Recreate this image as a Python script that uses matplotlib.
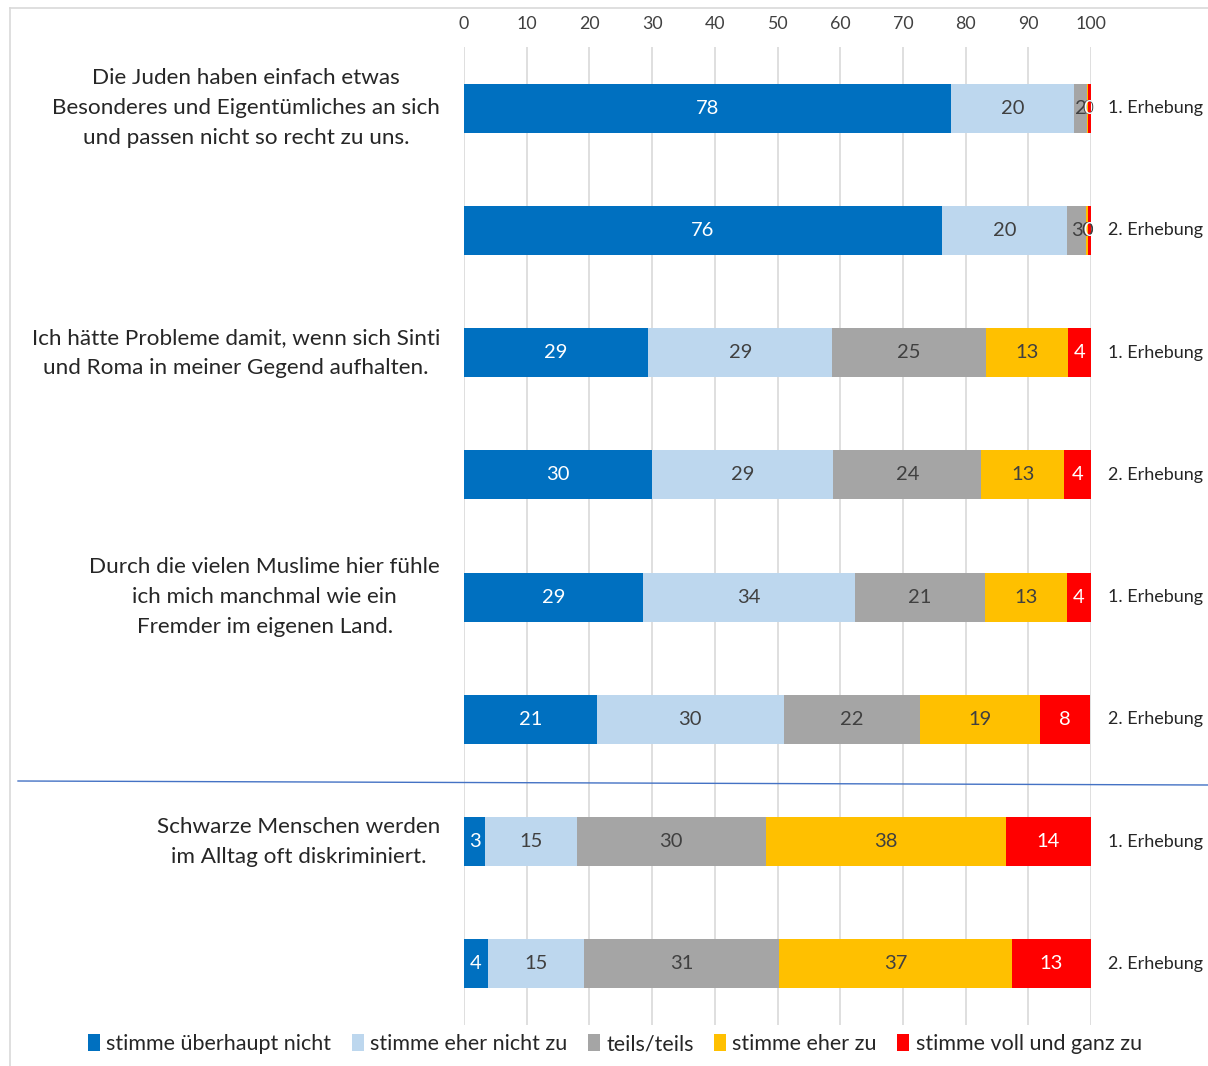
import matplotlib.pyplot as plt
from matplotlib.lines import Line2D
from matplotlib.patches import Patch

plt.rcParams["font.family"] = ["Lato", "DejaVu Sans"]

statements = [
    "Die Juden haben einfach etwas\nBesonderes und Eigentümliches an sich\nund passen nicht so recht zu uns.",
    "Ich hätte Probleme damit, wenn sich Sinti\nund Roma in meiner Gegend aufhalten.",
    "Durch die vielen Muslime hier fühle\nich mich manchmal wie ein\nFremder im eigenen Land.",
    "Schwarze Menschen werden\nim Alltag oft diskriminiert.",
]
waves = ["1. Erhebung", "2. Erhebung"]
answers = [
    "stimme überhaupt nicht",
    "stimme eher nicht zu",
    "teils/teils",
    "stimme eher zu",
    "stimme voll und ganz zu",
]

# percent per answer category, one row per statement x wave
stimme_ueberhaupt_nicht = [77.7, 76.2, 29.4, 30.0, 28.6, 21.2, 3.4, 3.8]
stimme_eher_nicht_zu = [19.6, 20.0, 29.3, 28.9, 33.8, 29.8, 14.6, 15.4]
teils_teils = [2.1, 3.0, 24.6, 23.6, 20.7, 21.7, 30.1, 31.0]
stimme_eher_zu = [0.2, 0.4, 13.0, 13.2, 13.1, 19.1, 38.3, 37.2]
stimme_voll_zu = [0.4, 0.4, 3.7, 4.3, 3.8, 8.1, 13.6, 12.6]

series = [stimme_ueberhaupt_nicht, stimme_eher_nicht_zu, teils_teils, stimme_eher_zu, stimme_voll_zu]
colors = ["#0070C0", "#BDD7EE", "#A5A5A5", "#FFC000", "#FF0000"]
label_colors = ["white", "#404040", "#404040", "#404040", "white"]

W, H = 1208, 1066
fig = plt.figure(figsize=(W / 100, H / 100), dpi=100)
ax = fig.add_axes([464 / W, 1 - 1025 / H, (1091 - 464) / W, (1025 - 47) / H])

n_rows = len(stimme_ueberhaupt_nicht)
rows = list(range(n_rows))
left = [0.0] * n_rows
for vals, col, tcol in zip(series, colors, label_colors):
    ax.barh(rows, vals, left=left, height=0.4, color=col, zorder=2)
    for r in rows:
        ax.text(left[r] + vals[r] / 2, r, f"{vals[r]:.0f}", ha="center", va="center",
                fontsize=14.5, color=tcol, zorder=3)
    left = [a + b for a, b in zip(left, vals)]

ax.set_xlim(0, 100)
ax.set_ylim(n_rows - 0.5, -0.5)
ax.set_xticks(range(0, 101, 10))
ax.xaxis.tick_top()
ax.tick_params(axis="x", length=0, pad=11, labelsize=12.8, labelcolor="#404040")
ax.set_yticks([])
ax.grid(axis="x", color="#D9D9D9", linewidth=1.2, zorder=0)
for s in ax.spines.values():
    s.set_visible(False)

# wave labels on the right
for r in rows:
    ax.text(102.7, r, waves[r % 2], ha="left", va="center", fontsize=13, color="#262626")

# statement text, aligned with the first wave of each pair
for i, txt in enumerate(statements):
    ax.text(-3.8, 2 * i, txt, ha="right", va="center", multialignment="center",
            fontsize=16.2, color="#262626", linespacing=1.62)

# separator line and outer frame
fig.add_artist(Line2D([18 / W, 1.0], [1 - 781 / H, 1 - 785 / H], color="#4472C4", linewidth=1.0))
fig.add_artist(Line2D([10 / W, 10 / W], [0, 1 - 8 / H], color="#D9D9D9", linewidth=1.2))
fig.add_artist(Line2D([10 / W, 1.0], [1 - 8 / H, 1 - 8 / H], color="#D9D9D9", linewidth=1.2))

handles = [Patch(facecolor=c, edgecolor="none") for c in colors]
fig.legend(handles, answers, loc="center", bbox_to_anchor=(615 / W, 1 - 1044 / H), ncol=5,
           frameon=False, fontsize=15.5, handlelength=0.55, handleheight=0.85,
           handletextpad=0.3, columnspacing=0.95, labelcolor="#262626")

fig.savefig("out.png", dpi=100)
